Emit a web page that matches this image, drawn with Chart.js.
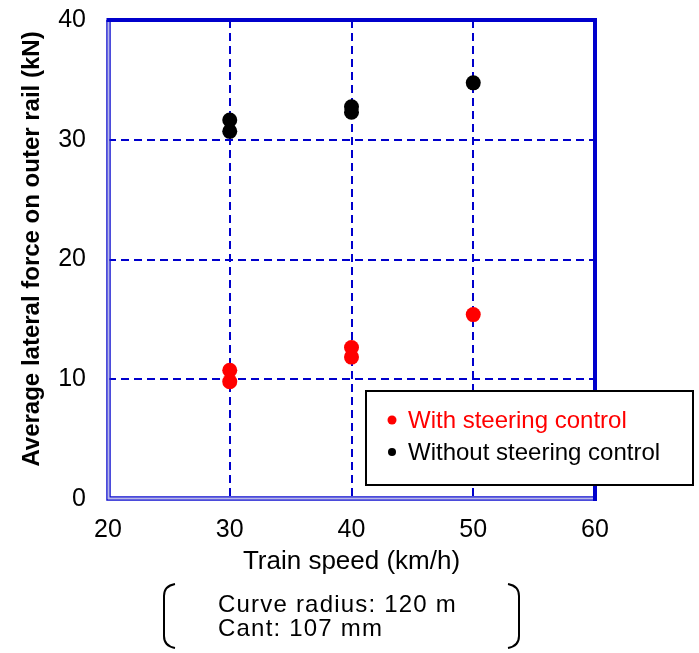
<!DOCTYPE html>
<html>
<head>
<meta charset="utf-8">
<script src="https://cdn.jsdelivr.net/npm/chart.js@4"></script>
<style>
  html, body { margin: 0; padding: 0; background: #ffffff; }
  #c { display: block; }
</style>
</head>
<body>
<canvas id="c" width="699" height="653"></canvas>
<script>
// ---- data ----
const seriesLabels = ['With steering control', 'Without steering control'];
const withSpeed = [30, 30, 40, 40, 50];
const withForce = [10.75, 9.8, 12.65, 11.85, 15.4];
const withoutSpeed = [30, 30, 40, 40, 50];
const withoutForce = [31.65, 30.7, 32.75, 32.3, 34.75];
const xTicks = [20, 30, 40, 50, 60];
const yTicks = [0, 10, 20, 30, 40];
const xTitle = 'Train speed (km/h)';
const yTitle = 'Average lateral force on outer rail (kN)';
const noteLines = ['Curve radius: 120 m', 'Cant: 107 mm'];

const FONT = "'Liberation Sans', Arial, sans-serif";
const GRID = '#0000cc';

function pts(xs, ys) { return xs.map((x, i) => ({ x: x, y: ys[i] })); }

const frameAndNotes = {
  id: 'frameAndNotes',
  beforeDatasetsDraw(chart) {
    const { ctx, chartArea: a } = chart;
    ctx.save();
    // left & bottom double line
    ctx.strokeStyle = '#1010d0';
    ctx.lineWidth = 1.5;
    ctx.beginPath();
    ctx.moveTo(a.left - 1, a.top); ctx.lineTo(a.left - 1, a.bottom + 1); ctx.lineTo(a.right, a.bottom + 1);
    ctx.moveTo(a.left + 2, a.top); ctx.lineTo(a.left + 2, a.bottom - 2); ctx.lineTo(a.right, a.bottom - 2);
    ctx.stroke();
    ctx.strokeStyle = '#b8b8e8';
    ctx.lineWidth = 1.5;
    ctx.beginPath();
    ctx.moveTo(a.left + 0.5, a.top); ctx.lineTo(a.left + 0.5, a.bottom - 0.5); ctx.lineTo(a.right, a.bottom - 0.5);
    ctx.stroke();
    // top & right thick
    ctx.strokeStyle = '#0000cc';
    ctx.lineWidth = 4;
    ctx.beginPath();
    ctx.moveTo(a.left - 1.5, a.top); ctx.lineTo(a.right, a.top); ctx.lineTo(a.right, a.bottom + 2);
    ctx.stroke();
    ctx.restore();
  },
  afterDatasetsDraw(chart) {
    const { ctx } = chart;
    ctx.save();
    // y axis title
    ctx.fillStyle = '#000000';
    ctx.font = 'bold 24px ' + FONT;
    ctx.textAlign = 'center';
    ctx.textBaseline = 'middle';
    ctx.translate(32, 249);
    ctx.rotate(-Math.PI / 2);
    ctx.fillText(yTitle, 0, 0);
    ctx.setTransform(1, 0, 0, 1, 0, 0);
    // legend box
    const bx = 366, by = 391, bw = 327, bh = 94;
    ctx.fillStyle = '#ffffff';
    ctx.fillRect(bx, by, bw, bh);
    ctx.strokeStyle = '#000000';
    ctx.lineWidth = 2;
    ctx.strokeRect(bx, by, bw, bh);
    ctx.font = '24px ' + FONT;
    ctx.textBaseline = 'middle';
    ctx.textAlign = 'left';
    chart.data.datasets.forEach((ds, i) => {
      const y = 420 + i * 32;
      ctx.fillStyle = ds.backgroundColor;
      ctx.beginPath();
      ctx.arc(392, y, i === 0 ? 4.5 : 4, 0, Math.PI * 2);
      ctx.fill();
      ctx.fillText(ds.label, 408, y + 1);
    });
    // note brackets
    ctx.strokeStyle = '#000000';
    ctx.lineWidth = 2;
    ctx.beginPath();
    ctx.moveTo(175, 584);
    ctx.quadraticCurveTo(164, 586, 164, 596);
    ctx.lineTo(164, 636);
    ctx.quadraticCurveTo(164, 646, 175, 648);
    ctx.moveTo(508, 584);
    ctx.quadraticCurveTo(519, 586, 519, 596);
    ctx.lineTo(519, 636);
    ctx.quadraticCurveTo(519, 646, 508, 648);
    ctx.stroke();
    ctx.fillStyle = '#000000';
    ctx.font = '24px ' + FONT;
    ctx.letterSpacing = '1.2px';
    noteLines.forEach((t, i) => ctx.fillText(t, 218, 605 + i * 24));
    ctx.letterSpacing = '0px';
    ctx.restore();
  }
};

new Chart(document.getElementById('c'), {
  type: 'scatter',
  data: {
    datasets: [
      { label: seriesLabels[0], data: pts(withSpeed, withForce), backgroundColor: '#ff0000', borderColor: '#ff0000', pointRadius: 7.5, pointBorderWidth: 0 },
      { label: seriesLabels[1], data: pts(withoutSpeed, withoutForce), backgroundColor: '#000000', borderColor: '#000000', pointRadius: 7.5, pointBorderWidth: 0 }
    ]
  },
  options: {
    responsive: false,
    animation: false,
    devicePixelRatio: 1,
    layout: { padding: { left: 0, top: 20, right: 104, bottom: 0 } },
    plugins: { legend: { display: false }, tooltip: { enabled: false } },
    scales: {
      x: {
        type: 'linear', min: 20, max: 60,
        afterFit(s) { s.height = 154; s.paddingLeft = 0; s.paddingRight = 0; },
        afterBuildTicks(s) { s.ticks = xTicks.map(v => ({ value: v })); },
        ticks: { color: '#000', font: { family: FONT, size: 25 }, padding: 16 },
        grid: { drawTicks: false, lineWidth: 2, color: c => (c.tick && (c.tick.value === 20 || c.tick.value === 60)) ? 'rgba(0,0,0,0)' : GRID },
        border: { display: false, dash: [8, 5] },
        title: { display: true, text: xTitle, color: '#000', font: { family: FONT, size: 26 }, padding: { top: 0, bottom: 76 } }
      },
      y: {
        type: 'linear', min: 0, max: 40,
        afterFit(s) { s.width = 108; s.paddingTop = 0; s.paddingBottom = 0; },
        afterBuildTicks(s) { s.ticks = yTicks.map(v => ({ value: v })); },
        ticks: { color: '#000', font: { family: FONT, size: 25 }, padding: 22 },
        grid: { drawTicks: false, lineWidth: 2, color: c => (c.tick && (c.tick.value === 0 || c.tick.value === 40)) ? 'rgba(0,0,0,0)' : GRID },
        border: { display: false, dash: [8, 5] },
        title: { display: false }
      }
    }
  },
  plugins: [frameAndNotes]
});
</script>
</body>
</html>
